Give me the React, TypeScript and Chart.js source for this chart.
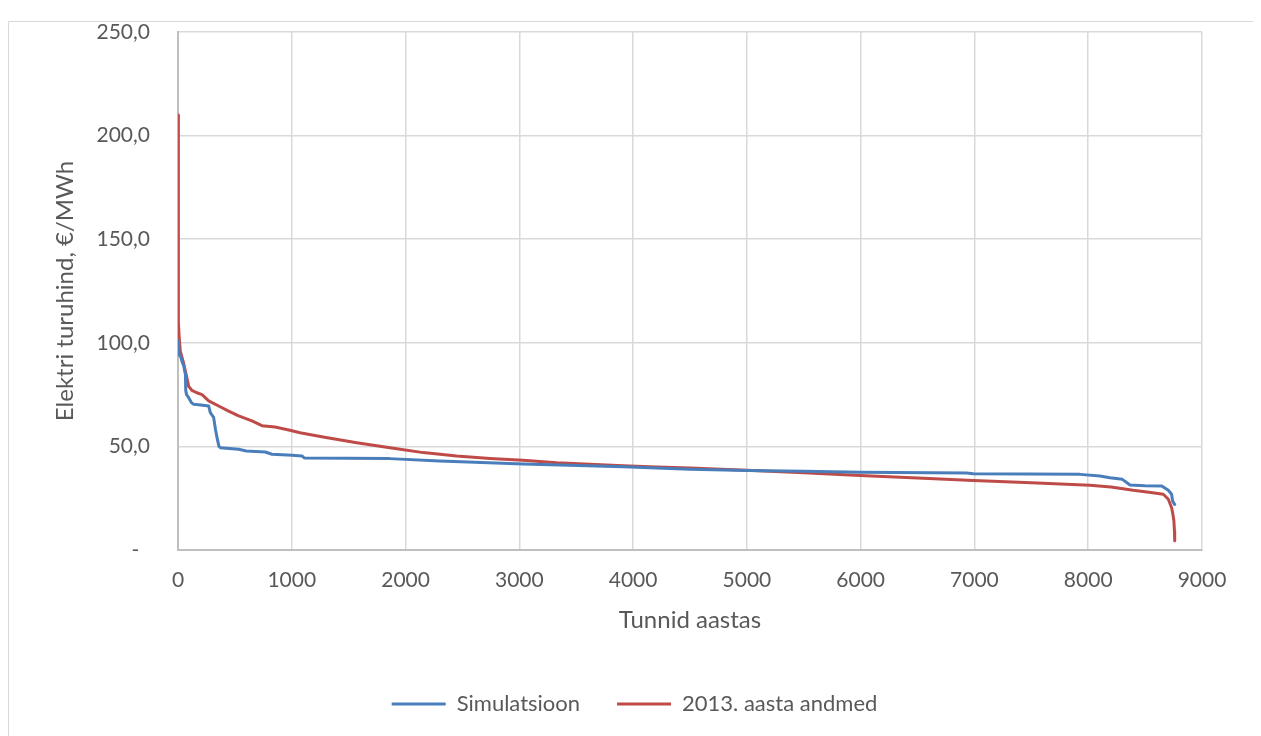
import { useEffect, useRef } from "react";
import { Chart, registerables } from "chart.js";

Chart.register(...registerables);

// Price duration curves: hours of the year sorted by market price
const simHours = [0, 5, 10, 20, 35, 50, 60, 65, 68, 75, 94, 120, 138, 200, 270, 284, 313, 330, 343, 360, 372, 450, 533, 600, 767, 826, 1002, 1090, 1110, 1860, 2300, 3035, 3913, 4500, 5000, 5500, 5994, 6931, 6990, 7928, 8103, 8191, 8300, 8367, 8500, 8646, 8704, 8733, 8742, 8760];
const simPrice = [101, 100, 94, 94, 91, 89, 86, 85, 77, 75, 73.5, 71, 70.3, 70, 69.5, 66.3, 64, 58, 54.2, 50, 49.4, 49, 48.6, 47.8, 47.3, 46.2, 45.7, 45.4, 44.4, 44.1, 43.0, 41.5, 40.2, 39.0, 38.4, 38.0, 37.5, 37.2, 36.8, 36.5, 35.7, 34.9, 34.1, 31.4, 31.0, 30.9, 28.8, 26.9, 23.6, 22.0];

const obsHours = [0, 1, 2, 3, 4, 6, 10, 20, 35, 50, 70, 94, 123, 160, 211, 270, 357, 445, 533, 650, 738, 853, 984, 1072, 1275, 1571, 1863, 2155, 2449, 2742, 3033, 3328, 3621, 3913, 4207, 4500, 4998, 5500, 5994, 6500, 6990, 7500, 8015, 8200, 8395, 8550, 8660, 8704, 8733, 8745, 8753, 8758, 8760];
const obsPrice = [210, 200, 170, 140, 122, 110, 103, 96, 93, 90, 85, 79, 77, 76, 75, 72, 69.5, 67, 64.7, 62.3, 60, 59.4, 57.8, 56.6, 54.5, 51.8, 49.4, 47, 45.4, 44.2, 43.3, 42.1, 41.4, 40.7, 40, 39.6, 38.5, 37.3, 36, 34.8, 33.6, 32.5, 31.2, 30.4, 28.8, 27.8, 26.9, 24.5, 20.4, 17, 14, 9, 4.5];

const seriesNames = ["Simulatsioon", "2013. aasta andmed"];
const xTitle = "Tunnid aastas";
const yTitle = "Elektri turuhind, €/MWh";
const xMax = 9000;
const xStep = 1000;
const yMax = 250;
const yStep = 50;

const BLUE = "#4A7EBB";
const RED = "#BE4B48";
const TEXT = "#595959";
const GRID = "#D9D9D9";
const AXIS = "#BFBFBF";
const FONT = "Lato, 'Open Sans', sans-serif";

const W = 1245;
const H = 721;

export default function App() {
  const ref = useRef<HTMLCanvasElement | null>(null);

  useEffect(() => {
    if (!ref.current) return;
    const chart = new Chart(ref.current, {
      type: "line",
      data: {
        datasets: [
          {
            label: seriesNames[0],
            data: simHours.map((h, i) => ({ x: h, y: simPrice[i] })),
            borderColor: BLUE,
            backgroundColor: BLUE,
            borderWidth: 3,
            pointRadius: 0,
            tension: 0,
            fill: false,
            borderJoinStyle: "round",
            borderCapStyle: "round",
          },
          {
            label: seriesNames[1],
            data: obsHours.map((h, i) => ({ x: h, y: obsPrice[i] })),
            borderColor: RED,
            backgroundColor: RED,
            borderWidth: 3,
            pointRadius: 0,
            tension: 0,
            fill: false,
            borderJoinStyle: "round",
            borderCapStyle: "round",
          },
        ],
      },
      options: {
        responsive: false,
        animation: false,
        devicePixelRatio: 1,
        layout: { padding: { top: 10, right: 4, left: 10, bottom: 18 } },
        plugins: {
          tooltip: { enabled: false },
          legend: {
            position: "bottom",
            labels: {
              color: TEXT,
              font: { family: FONT, size: 22 },
              boxWidth: 54,
              boxHeight: 3,
              padding: 37,
              generateLabels: (c) =>
                Chart.defaults.plugins.legend.labels.generateLabels(c).map((l) => ({
                  ...l,
                  lineWidth: 0,
                })),
            },
          },
        },
        scales: {
          x: {
            type: "linear",
            min: 0,
            max: xMax,
            ticks: {
              stepSize: xStep,
              color: TEXT,
              font: { family: FONT, size: 21 },
              padding: 18,
              maxRotation: 0,
              callback: (v: any) => String(v),
            },
            grid: { color: GRID, lineWidth: 1.5, drawTicks: false },
            border: { color: AXIS, width: 2 },
            title: {
              display: true,
              text: xTitle,
              color: TEXT,
              font: { family: FONT, size: 24 },
              padding: { top: 0, bottom: 21 },
            },
            afterFit: (s: any) => {
              s.height = 106;
              s.paddingRight = 52;
            },
          },
          y: {
            min: 0,
            max: yMax,
            ticks: {
              stepSize: yStep,
              color: TEXT,
              font: { family: FONT, size: 21 },
              padding: 28,
              callback: (v: any) => (Number(v) === 0 ? "-  " : Number(v).toFixed(1).replace(".", ",")),
            },
            grid: { color: GRID, lineWidth: 1.5, drawTicks: false },
            border: { color: AXIS, width: 2 },
            title: {
              display: true,
              text: yTitle,
              color: TEXT,
              font: { family: FONT, size: 24 },
              padding: { top: 32, bottom: 0 },
            },
            afterFit: (s: any) => {
              s.width = 159;
              s.paddingTop = 0;
              s.paddingBottom = 0;
            },
          },
        },
      },
    });
    return () => chart.destroy();
  }, []);

  return (
    <div
      style={{
        marginTop: 13,
        width: W,
        height: H,
        border: "1px solid #D9D9D9",
        background: "#fff",
      }}
    >
      <canvas ref={ref} width={W} height={H} style={{ display: "block", width: W, height: H }} />
    </div>
  );
}
